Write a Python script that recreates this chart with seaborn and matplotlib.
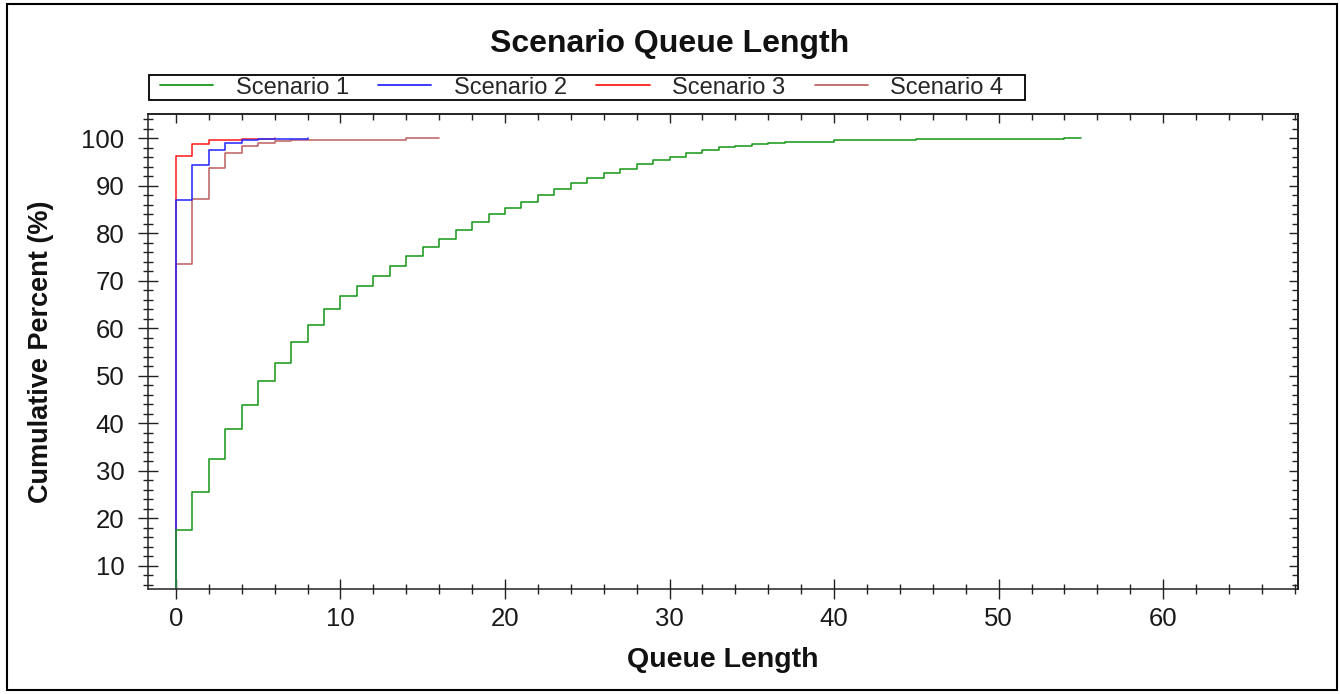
import numpy as np
import pandas as pd
import matplotlib
matplotlib.use("Agg")
import matplotlib.pyplot as plt
from matplotlib.ticker import MultipleLocator, NullFormatter
import seaborn as sns

# cumulative percent read at each queue length 0, 1, 2, ...
scenario_1 = [17.5, 25.5, 32.5, 38.7, 43.9, 48.8, 52.6, 57.1, 60.7, 64.0,
              66.7, 68.9, 71.0, 73.1, 75.1, 77.0, 78.8, 80.6, 82.4, 84.0,
              85.2, 86.5, 88.1, 89.3, 90.6, 91.6, 92.7, 93.5, 94.6, 95.4,
              96.1, 96.8, 97.4, 98.1, 98.4, 98.7, 98.9, 99.2, 99.2, 99.2,
              99.5, 99.5, 99.5, 99.5, 99.5, 99.7, 99.7, 99.7, 99.7, 99.7,
              99.7, 99.7, 99.7, 99.7, 100.0, 100.0]
scenario_2 = [86.9, 94.3, 97.4, 99.0, 99.6, 99.7, 99.7, 99.9, 100.0]
scenario_3 = [96.3, 98.7, 99.6, 99.6, 99.9, 99.9, 100.0]
scenario_4 = [73.4, 87.1, 93.6, 96.8, 98.3, 98.9, 99.4, 99.5, 99.5, 99.5,
              99.5, 99.5, 99.5, 99.5, 100.0, 100.0, 100.0]

scenario_names = ["Scenario 1", "Scenario 2", "Scenario 3", "Scenario 4"]
scenario_values = [scenario_1, scenario_2, scenario_3, scenario_4]
colors = ["#1c9a1c", "#2b2bff", "#ff2020", "#c06464"]
start_pct = 0.0  # every curve starts from 0 before queue length 0

sns.set_theme(style="white")
plt.rcParams["font.family"] = ["Liberation Sans", "DejaVu Sans"]
plt.rcParams["axes.edgecolor"] = "#222222"

fig = plt.figure(figsize=(13.4, 6.94), dpi=100)
ax = fig.add_axes([0.1104, 0.1513, 0.9687 - 0.1104, 0.8357 - 0.1513])

# later scenarios drawn first so scenario 1 sits on top
for name, vals, col in reversed(list(zip(scenario_names, scenario_values, colors))):
    df = pd.DataFrame({
        "Queue Length": [0] + list(range(len(vals))),
        "Cumulative Percent (%)": [start_pct] + vals,
    })
    sns.lineplot(data=df, x="Queue Length", y="Cumulative Percent (%)",
                 color=col, linewidth=1.15, drawstyle="steps-post",
                 estimator=None, sort=False, label=name, ax=ax)

ax.set_xlim(-1.7, 68.2)
ax.set_ylim(5.1, 105.06)
ax.xaxis.set_major_locator(MultipleLocator(10))
ax.xaxis.set_minor_locator(MultipleLocator(2))
ax.yaxis.set_major_locator(MultipleLocator(10))
ax.yaxis.set_minor_locator(MultipleLocator(2))
ax.set_yticks(np.arange(10, 101, 10))
ax.tick_params(which="both", bottom=True, left=True, top=False, right=False)
ax.tick_params(which="major", direction="inout", length=14, width=1.0,
               color="#222222", labelsize=18.5, labelcolor="#1a1a1a")
ax.tick_params(which="minor", direction="inout", length=7, width=1.0, color="#222222")
ax.tick_params(axis="x", which="major", pad=6)
ax.tick_params(axis="y", which="major", pad=10)
for sp in ax.spines.values():
    sp.set_linewidth(1.1)

# inward ticks on top and right edges
top = ax.secondary_xaxis("top")
top.xaxis.set_major_locator(MultipleLocator(10))
top.xaxis.set_minor_locator(MultipleLocator(2))
top.xaxis.set_major_formatter(NullFormatter())
top.tick_params(which="both", top=True, direction="in", width=1.0, color="#222222")
top.tick_params(which="major", length=6.5)
top.tick_params(which="minor", length=4)
right = ax.secondary_yaxis("right")
right.yaxis.set_major_locator(MultipleLocator(10))
right.yaxis.set_minor_locator(MultipleLocator(2))
right.yaxis.set_major_formatter(NullFormatter())
right.tick_params(which="both", right=True, direction="in", width=1.0, color="#222222")
right.tick_params(which="major", length=6.5)
right.tick_params(which="minor", length=4)

ax.set_xlabel("Queue Length", fontsize=20.5, fontweight="bold", color="#111111")
ax.set_ylabel("Cumulative Percent (%)", fontsize=19.5, fontweight="bold", color="#111111")
ax.xaxis.set_label_coords(0.5, -0.122)
ax.yaxis.set_label_coords(-0.082, 0.5)

fig.text(0.5, 0.9255, "Scenario Queue Length", ha="center", va="baseline",
         fontsize=23, fontweight="bold", color="#111111")

handles, labels = ax.get_legend_handles_labels()
leg = ax.legend(handles[::-1], labels[::-1], ncol=4, loc="center left",
                bbox_to_anchor=(160 / 1340, 1 - 87.5 / 694),
                bbox_transform=fig.transFigure, fontsize=17, frameon=False,
                borderpad=0, borderaxespad=0, handlelength=2.25,
                handletextpad=0.95, columnspacing=1.25)
for line in leg.get_lines():
    line.set_linewidth(1.3)

# legend box and outer frame round the whole picture
fig.add_artist(plt.Rectangle((149 / 1340, 1 - 100 / 694), 876 / 1340, 25 / 694,
                             transform=fig.transFigure, fill=False,
                             edgecolor="black", linewidth=1.3))
fig.add_artist(plt.Rectangle((6.5 / 1340, 1 - 690 / 694), (1337 - 6.5) / 1340,
                             (690 - 4.3) / 694, transform=fig.transFigure,
                             fill=False, edgecolor="black", linewidth=1.5))

fig.savefig("out.png", dpi=100)
plt.close(fig)
